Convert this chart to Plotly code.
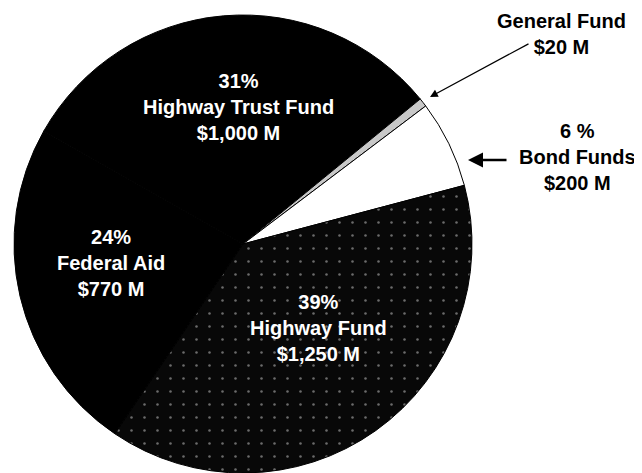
import plotly.graph_objects as go

# ── Data ──────────────────────────────────────────────────────────────────────
sources = ["Highway Trust Fund", "General Fund", "Bond Funds", "Highway Fund", "Federal Aid"]
amounts = [1000, 20, 200, 1250, 770]          # $ millions
pct_text = ["31%", "", "6 %", "39%", "24%"]

# ── Style ─────────────────────────────────────────────────────────────────────
PAD = 8                       # page body margin in the browser
W, H = 642 - PAD, 473 - PAD   # figure size so it fits the window
FONT = "Arial, 'Liberation Sans', sans-serif"
colors = ["#000000", "#c8c8c8", "#ffffff", "#080808", "#000000"]
patterns = ["", "", "", ".", ""]

# label block centres, window pixels (x from left, y from top)
label_pos = {
    "Highway Trust Fund": (238, 107, "white"),
    "Federal Aid":        (111, 263, "white"),
    "Highway Fund":       (318, 328, "white"),
    "Bond Funds":         (577, 157, "black"),
    "General Fund":       (561, 34, "black"),
}


def px(x, y):
    return (x - PAD) / W, 1 - (y - PAD) / H


# pie: centre (243, 244) in window pixels, radius 229
cx, cy, r = 243 - PAD, 244 - PAD, 229
fig = go.Figure(go.Pie(
    labels=sources,
    values=amounts,
    sort=False,
    direction="clockwise",
    rotation=-60.4,
    marker=dict(
        colors=colors,
        line=dict(color="black", width=1),
        pattern=dict(shape=patterns, fillmode="overlay", fgcolor="#ffffff",
                     fgopacity=0.4, size=13, solidity=0.03),
    ),
    textinfo="none",
    hovertemplate="%{label}: $%{value:,} M<extra></extra>",
    domain=dict(x=[(cx - r) / W, (cx + r) / W],
                y=[(H - cy - r) / H, (H - cy + r) / H]),
    showlegend=False,
))

annotations = []
for name, val, pct in zip(sources, amounts, pct_text):
    x, y, col = label_pos[name]
    lines = ([pct] if pct else []) + [name, f"${val:,} M"]
    xp, yp = px(x, y)
    annotations.append(dict(
        x=xp, y=yp, xref="paper", yref="paper",
        xanchor="center", yanchor="middle",
        text="<br>".join(f"<b>{l}</b>" for l in lines),
        showarrow=False, align="center",
        font=dict(family=FONT, size=20, color=col),
    ))

# pointer arrows (tip position, tail offset in px)
for (tx, ty), (ax, ay), wdt in [((430, 97), (100, -54), 1.3),
                                ((468, 160), (40, 0), 2.5)]:
    xp, yp = px(tx, ty)
    annotations.append(dict(
        x=xp, y=yp, xref="paper", yref="paper", text="",
        showarrow=True, ax=ax, ay=ay, arrowhead=2, arrowsize=1.2,
        arrowwidth=wdt, arrowcolor="black",
    ))

fig.update_layout(
    width=W, height=H,
    margin=dict(l=0, r=0, t=0, b=0),
    paper_bgcolor="white",
    plot_bgcolor="white",
    annotations=annotations,
)

fig.write_html("out.html")
